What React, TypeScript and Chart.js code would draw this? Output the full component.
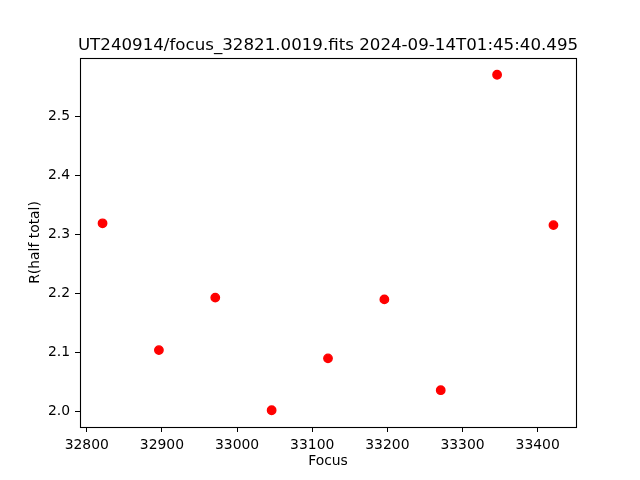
import React, { useEffect, useRef } from "react";
import { Chart, registerables } from "chart.js";

Chart.register(...registerables);

const TITLE = "UT240914/focus_32821.0019.fits 2024-09-14T01:45:40.495";
const X_LABEL = "Focus";
const Y_LABEL = "R(half total)";
const focusValues = [32821, 32896, 32971, 33046, 33121, 33196, 33271, 33346, 33421];
const radiusValues = [2.319, 2.104, 2.193, 2.002, 2.09, 2.19, 2.036, 2.571, 2.316];

function paddedRange(vals: number[]) {
  const lo = Math.min(...vals);
  const hi = Math.max(...vals);
  const m = (hi - lo) * 0.05;
  return [lo - m, hi + m];
}

const framePlugin = {
  id: "frame",
  afterDraw(chart: any) {
    const { ctx, chartArea } = chart;
    ctx.save();
    ctx.strokeStyle = "#000";
    ctx.lineWidth = 1.1;
    ctx.strokeRect(
      Math.round(chartArea.left) + 0.5,
      Math.round(chartArea.top) + 0.5,
      Math.round(chartArea.right - chartArea.left),
      Math.round(chartArea.bottom - chartArea.top)
    );
    ctx.fillStyle = "#000";
    ctx.font = "normal 16.67px 'DejaVu Sans'";
    ctx.textAlign = "center";
    ctx.textBaseline = "alphabetic";
    ctx.fillText(TITLE, (chartArea.left + chartArea.right) / 2, 49.5);
    ctx.restore();
  },
};

export default function App() {
  const ref = useRef<HTMLCanvasElement | null>(null);
  useEffect(() => {
    if (!ref.current) return;
    const [xmin, xmax] = paddedRange(focusValues);
    const [ymin, ymax] = paddedRange(radiusValues);
    const font = { family: "DejaVu Sans", size: 13.9 };
    const chart = new Chart(ref.current, {
      type: "scatter",
      data: {
        datasets: [
          {
            data: focusValues.map((x, i) => ({ x, y: radiusValues[i] })),
            backgroundColor: "#ff0000",
            borderColor: "#ff0000",
            pointRadius: 4.2,
            pointHoverRadius: 4.2,
            borderWidth: 1.4,
          },
        ],
      },
      options: {
        responsive: false,
        animation: false,
        devicePixelRatio: 1,
        layout: { padding: { left: 0, right: 64, top: 58, bottom: 0 } },
        plugins: {
          legend: { display: false },
          tooltip: { enabled: false },
          title: { display: false },
        },
        scales: {
          x: {
            type: "linear",
            min: xmin,
            max: xmax,
            afterFit: (s: any) => {
              s.height = 53;
            },
            border: { display: false },
            grid: { drawOnChartArea: false, drawTicks: true, tickLength: 5, color: "#000", lineWidth: 1 },
            ticks: {
              stepSize: 100,
              includeBounds: false,
              color: "#000",
              font,
              padding: 5,
              maxRotation: 0,
              callback: (v: any) => String(v),
            },
            title: { display: true, text: X_LABEL, color: "#000", font, padding: { top: 0, bottom: 10 } },
          },
          y: {
            type: "linear",
            min: ymin,
            max: ymax,
            afterFit: (s: any) => {
              s.width = 80;
            },
            border: { display: false },
            grid: { drawOnChartArea: false, drawTicks: true, tickLength: 5, color: "#000", lineWidth: 1 },
            ticks: {
              stepSize: 0.1,
              includeBounds: false,
              color: "#000",
              font,
              padding: 5,
              callback: (v: any) => Number(v).toFixed(1),
            },
            title: { display: true, text: Y_LABEL, color: "#000", font, padding: { top: 27, bottom: 0 } },
          },
        },
      },
      plugins: [framePlugin],
    } as any);
    return () => chart.destroy();
  }, []);
  return (
    <div style={{ position: "absolute", left: 0, top: 0, width: 640, height: 480, background: "#fff" }}>
      <canvas ref={ref} width={640} height={480} style={{ display: "block" }} />
    </div>
  );
}
